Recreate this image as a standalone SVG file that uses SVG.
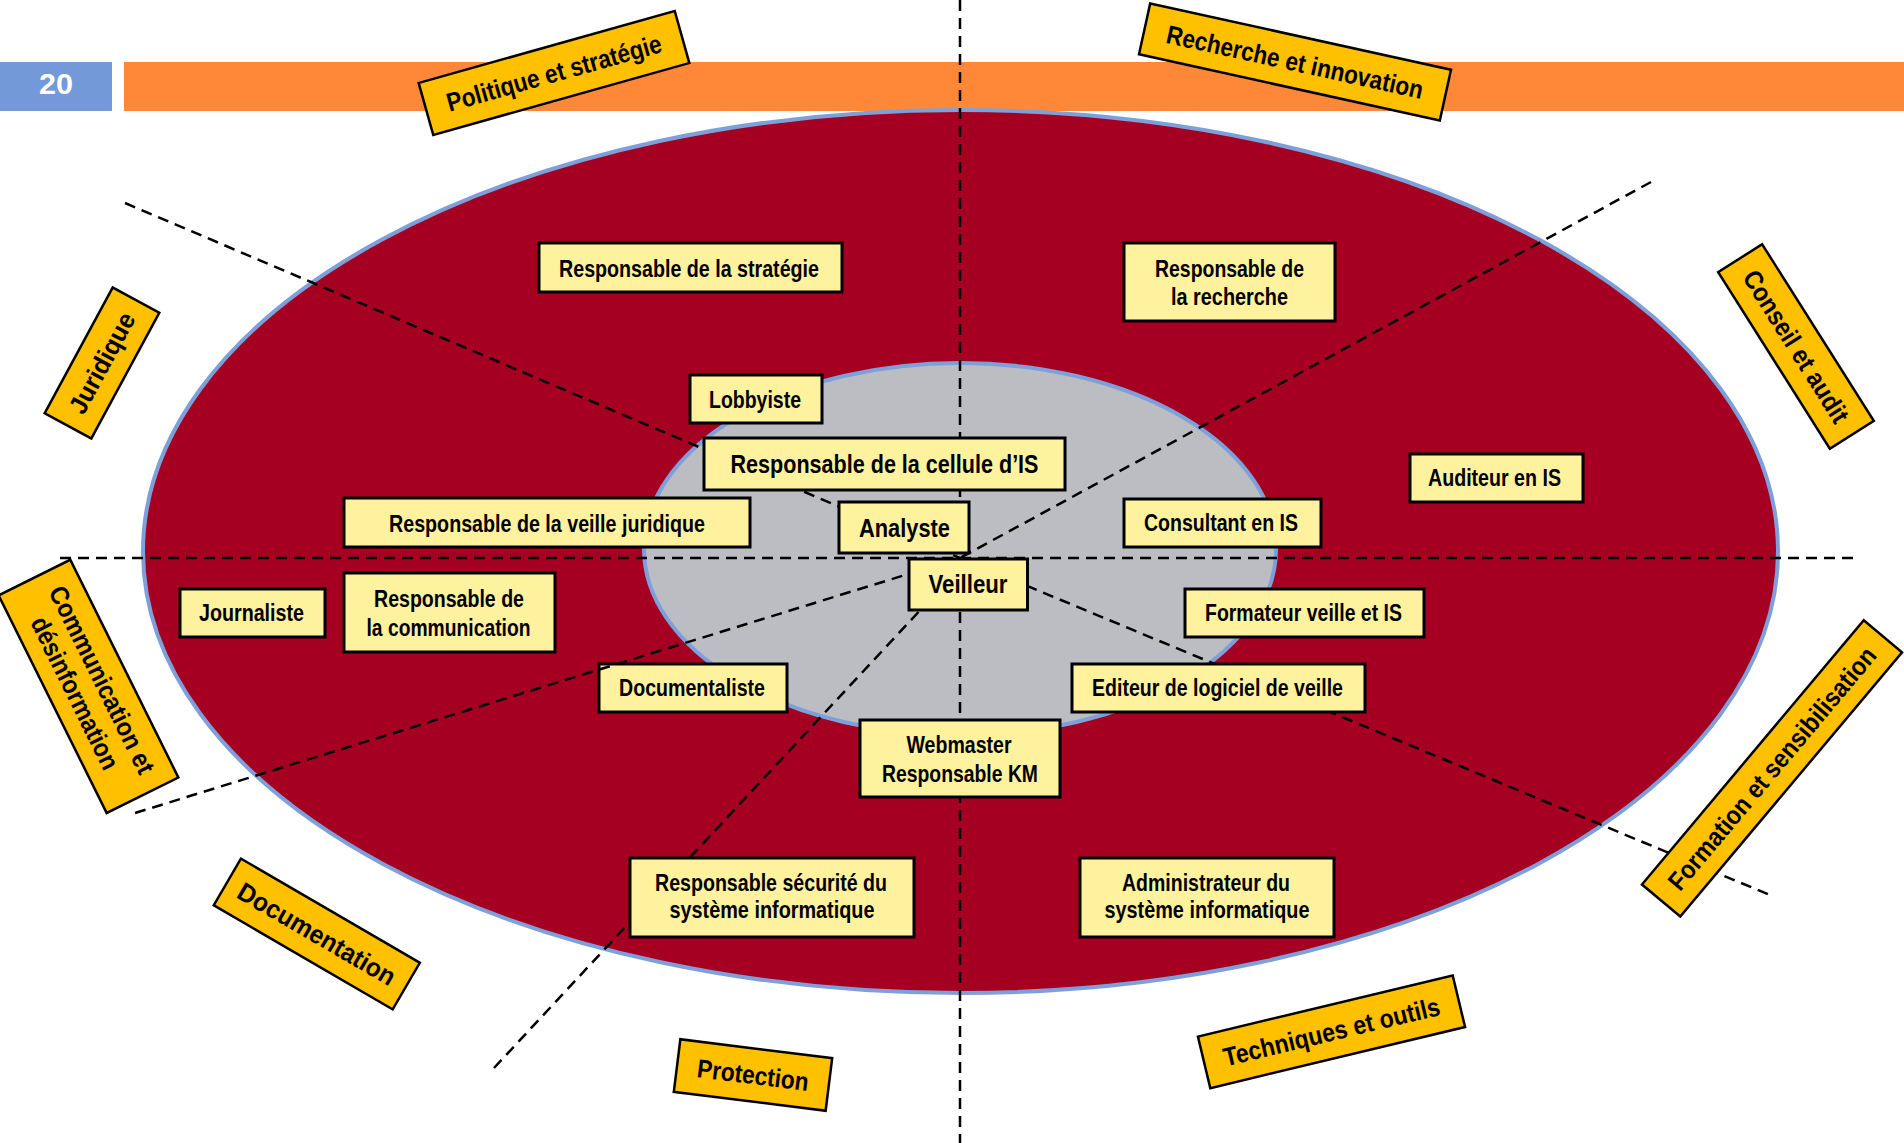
<svg xmlns="http://www.w3.org/2000/svg" width="1904" height="1143" viewBox="0 0 1904 1143">
<style>
.box{fill:#FFF29F;stroke:#000;stroke-width:3}
.bt{font-family:"Liberation Sans",Arial,sans-serif;font-weight:bold;font-size:24.5px;fill:#000;text-anchor:middle}
.bb{font-size:26px}
.lab{fill:#FFC000;stroke:#000;stroke-width:2.5}
.lt{font-family:"Liberation Sans",Arial,sans-serif;font-weight:bold;font-size:26px;fill:#000;text-anchor:middle}
.dash{stroke:#000;stroke-width:2.5;stroke-dasharray:11 7;fill:none}
</style>
<rect width="1904" height="1143" fill="#fff"/>
<g id="header">
<rect x="0" y="62" width="112" height="49" fill="#7399D8"/>
<text x="56" y="94" font-family="'Liberation Sans',Arial,sans-serif" font-weight="bold" font-size="30" fill="#fff" text-anchor="middle" textLength="34" lengthAdjust="spacingAndGlyphs">20</text>
<rect x="124" y="62" width="1780" height="49" fill="#FF8838"/>
</g>
<g id="ellipses">
<ellipse cx="960.5" cy="551.5" rx="817.5" ry="441.5" fill="#A50021" stroke="#7EA0DA" stroke-width="4"/>
<ellipse cx="960" cy="549" rx="316" ry="186" fill="#BCBDC2" stroke="#7EA0DA" stroke-width="4"/>
</g>
<g id="n-documentaliste"><rect class="box" x="599" y="664" width="188" height="48"/><text class="bt" x="692" y="696" textLength="146" lengthAdjust="spacingAndGlyphs">Documentaliste</text></g>
<g id="connectors">
<line class="dash" x1="960" y1="0" x2="960" y2="1143"/>
<line class="dash" x1="60" y1="558" x2="1860" y2="558"/>
<line class="dash" x1="125" y1="203" x2="960" y2="558"/>
<line class="dash" x1="1651" y1="182" x2="960" y2="558"/>
<line class="dash" x1="135" y1="813" x2="960" y2="558"/>
<line class="dash" x1="494" y1="1068" x2="925" y2="605"/>
<line class="dash" x1="960" y1="558" x2="1770" y2="895"/>
</g>
<g id="n-strategie"><rect class="box" x="539" y="243" width="303" height="49"/><text class="bt" x="689" y="277" textLength="260" lengthAdjust="spacingAndGlyphs">Responsable de la stratégie</text></g>
<g id="n-recherche"><rect class="box" x="1124" y="243" width="211" height="78"/><text class="bt" x="1229.5" y="277" textLength="149" lengthAdjust="spacingAndGlyphs">Responsable de</text><text class="bt" x="1229.5" y="305" textLength="117" lengthAdjust="spacingAndGlyphs">la recherche</text></g>
<g id="n-lobbyiste"><rect class="box" x="690" y="375" width="132" height="48"/><text class="bt" x="755" y="408" textLength="92" lengthAdjust="spacingAndGlyphs">Lobbyiste</text></g>
<g id="n-cellule"><rect class="box" x="704" y="438" width="361" height="52"/><text class="bt bb" x="884.5" y="473" textLength="308" lengthAdjust="spacingAndGlyphs">Responsable de la cellule d’IS</text></g>
<g id="n-analyste"><rect class="box" x="839" y="502" width="130" height="51"/><text class="bt bb" x="904.5" y="537" textLength="91" lengthAdjust="spacingAndGlyphs">Analyste</text></g>
<g id="n-veilleur"><rect class="box" x="909" y="559" width="118.5" height="51"/><text class="bt bb" x="968" y="593" textLength="79" lengthAdjust="spacingAndGlyphs">Veilleur</text></g>
<g id="n-veille-juridique"><rect class="box" x="344" y="498" width="406" height="49"/><text class="bt" x="547" y="532" textLength="316" lengthAdjust="spacingAndGlyphs">Responsable de la veille juridique</text></g>
<g id="n-journaliste"><rect class="box" x="180" y="589" width="145" height="48"/><text class="bt" x="251.5" y="621" textLength="105" lengthAdjust="spacingAndGlyphs">Journaliste</text></g>
<g id="n-communication"><rect class="box" x="344" y="573" width="211" height="79"/><text class="bt" x="449" y="607" textLength="150" lengthAdjust="spacingAndGlyphs">Responsable de</text><text class="bt" x="448.5" y="636" textLength="164" lengthAdjust="spacingAndGlyphs">la communication</text></g>
<g id="n-webmaster"><rect class="box" x="860" y="720" width="200" height="77"/><text class="bt" x="959" y="753" textLength="105" lengthAdjust="spacingAndGlyphs">Webmaster</text><text class="bt" x="960" y="782" textLength="156" lengthAdjust="spacingAndGlyphs">Responsable KM</text></g>
<g id="n-auditeur"><rect class="box" x="1410" y="454" width="173" height="48"/><text class="bt" x="1494.5" y="486" textLength="133" lengthAdjust="spacingAndGlyphs">Auditeur en IS</text></g>
<g id="n-consultant"><rect class="box" x="1124" y="499" width="197" height="48"/><text class="bt" x="1221" y="531" textLength="154" lengthAdjust="spacingAndGlyphs">Consultant en IS</text></g>
<g id="n-formateur"><rect class="box" x="1185" y="589" width="239" height="48"/><text class="bt" x="1303.5" y="621" textLength="197" lengthAdjust="spacingAndGlyphs">Formateur veille et IS</text></g>
<g id="n-editeur"><rect class="box" x="1072" y="664" width="293" height="48"/><text class="bt" x="1217.5" y="696" textLength="251" lengthAdjust="spacingAndGlyphs">Editeur de logiciel de veille</text></g>
<g id="n-securite"><rect class="box" x="630" y="858" width="284" height="79"/><text class="bt" x="771" y="891" textLength="232" lengthAdjust="spacingAndGlyphs">Responsable sécurité du</text><text class="bt" x="772" y="918" textLength="205" lengthAdjust="spacingAndGlyphs">système informatique</text></g>
<g id="n-admin"><rect class="box" x="1080" y="858" width="254" height="79"/><text class="bt" x="1206" y="891" textLength="168" lengthAdjust="spacingAndGlyphs">Administrateur du</text><text class="bt" x="1207" y="918" textLength="205" lengthAdjust="spacingAndGlyphs">système informatique</text></g>
<g id="l-politique" transform="translate(554 73) rotate(-15.7)"><rect class="lab" x="-133" y="-27" width="266" height="54"/><text class="lt" x="0" y="9" textLength="222" lengthAdjust="spacingAndGlyphs">Politique et stratégie</text></g>
<g id="l-recherche" transform="translate(1295 62) rotate(12.4)"><rect class="lab" x="-154" y="-26" width="308" height="52"/><text class="lt" x="0" y="9" textLength="262" lengthAdjust="spacingAndGlyphs">Recherche et innovation</text></g>
<g id="l-conseil" transform="translate(1796 346.5) rotate(57.7)"><rect class="lab" x="-104.5" y="-26" width="209" height="52"/><text class="lt" x="0" y="9" textLength="175" lengthAdjust="spacingAndGlyphs">Conseil et audit</text></g>
<g id="l-formation" transform="translate(1772 768.4) rotate(-50)"><rect class="lab" x="-172.5" y="-25" width="345" height="50"/><text class="lt" x="0" y="9" font-size="24" textLength="308" lengthAdjust="spacingAndGlyphs">Formation et sensibilisation</text></g>
<g id="l-techniques" transform="translate(1331.5 1031.8) rotate(-13.5)"><rect class="lab" x="-131" y="-26.5" width="262" height="53"/><text class="lt" x="0" y="9" textLength="222" lengthAdjust="spacingAndGlyphs">Techniques et outils</text></g>
<g id="l-protection" transform="translate(753 1075) rotate(7.1)"><rect class="lab" x="-76.5" y="-26.5" width="153" height="53"/><text class="lt" x="0" y="9" textLength="112" lengthAdjust="spacingAndGlyphs">Protection</text></g>
<g id="l-documentation" transform="translate(316.8 934) rotate(30.2)"><rect class="lab" x="-103.5" y="-27" width="207" height="54"/><text class="lt" x="0" y="9" textLength="178" lengthAdjust="spacingAndGlyphs">Documentation</text></g>
<g id="l-juridique" transform="translate(102 363) rotate(-61.6)"><rect class="lab" x="-71.5" y="-26.5" width="143" height="53"/><text class="lt" x="0" y="9" textLength="111" lengthAdjust="spacingAndGlyphs">Juridique</text></g>
<g id="l-communication" transform="translate(88.5 686.4) rotate(63.6)"><rect class="lab" x="-121.5" y="-40" width="243" height="80"/><text class="lt" x="0" y="-6" textLength="206" lengthAdjust="spacingAndGlyphs">Communication et</text><text class="lt" x="0" y="24" textLength="167" lengthAdjust="spacingAndGlyphs">désinformation</text></g>
</svg>
